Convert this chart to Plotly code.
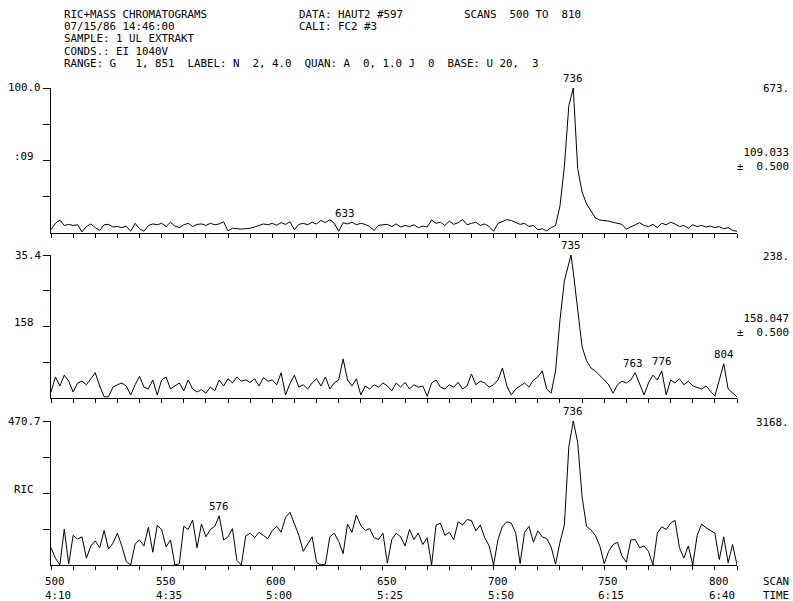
import plotly.graph_objects as go

W, H = 793, 601

# ---------------- data ----------------
top_scans = list(range(500, 811, 2))
top_vals = [
    15, 45, 60, 35, 40,   35, 38, 5, 30, 42,
    25, 12, 38, 40, 28,   30, 25, 32, 8, 45,
    20, 8, 35, 42, 38,    45, 30, 50, 32, 25,
    38, 45, 30, 40, 42,   35, 45, 38, 42, 52,
    10, 22, 20, 18, 20,   22, 28, 35, 42, 38,
    45, 36, 48, 40, 52,   15, 40, 45, 38, 50,
    42, 58, 48, 62, 45,   8, 48, 42, 50, 38,
    45, 40, 30, 12, 35,   38, 40, 30, 42, 28,
    35, 30, 38, 25, 32,   28, 60, 45, 50, 35,
    55, 40, 48, 62, 38,   45, 50, 35, 42, 30,
    8, 45, 55, 62, 58,    50, 40, 45, 30, 35,
    15, 20, 10, 25, 35,   125, 310, 590, 673, 300,
    190, 135, 100, 70, 60, 58, 55, 50, 45, 40,
    18, 30, 38, 48, 35,   30, 40, 25, 45, 38,
    50, 42, 30, 35, 22,   38, 30, 35, 28, 32,
    25, 30, 20, 25, 12,   8,
]

mid_scans = list(range(500, 735, 2)) + [735] + list(range(736, 811, 2))
mid_vals = [
    10, 35, 20, 38, 28,   10, 25, 28, 22, 32,
    42, 20, 2, 2, 18,     22, 25, 20, 5, 22,
    36, 18, 15, 30, 5,    30, 35, 15, 20, 25,
    12, 30, 15, 10, 14,   8, 18, 12, 30, 20,
    32, 25, 35, 28, 30,   26, 32, 20, 34, 28,
    30, 22, 42, 5, 24,    38, 18, 22, 15, 25,
    32, 20, 35, 15, 25,   30, 65, 30, 20, 32,
    5, 20, 15, 22, 18,    25, 20, 12, 25, 18,
    26, 15, 22, 18, 20,   3, 25, 30, 18, 15,
    22, 18, 26, 15, 20,   40, 22, 28, 25, 18,
    22, 30, 50, 20, 5,    15, 20, 25, 18, 30,
    35, 45, 15, 8, 45,    130, 195, 225, 238, 210, 150,
    85, 62, 50, 45, 38,   30, 22, 8, 22, 28,
    25, 30, 42, 22, 5,    25, 38, 30, 45, 5,
    30, 25, 32, 22, 28,   20, 18, 15, 20, 12,
    3, 30, 57, 15, 8,     2,
]

ric_scans = list(range(500, 811, 2))
ric_vals = [
    380, 150, 0, 790, 20,     650, 570, 620, 150, 420,
    530, 380, 760, 350, 480,  700, 420, 80, 0, 460,
    550, 420, 830, 280, 870,  780, 400, 550, 0, 30,
    850, 780, 990, 380, 900,  620, 780, 850, 1080, 550,
    620, 800, 100, 0, 640,    700, 600, 720, 650, 580,
    760, 850, 720, 1050, 1160, 900, 650, 300, 450, 620,
    60, 0, 20, 620, 700,      520, 250, 900, 720, 1100,
    870, 760, 800, 600, 560,  700, 40, 560, 700, 620,
    420, 780, 560, 700, 450,  600, 0, 880, 920, 650,
    720, 560, 950, 880, 1000, 980, 750, 880, 600, 420,
    0, 560, 850, 950, 920,    700, 30, 720, 850, 500,
    750, 620, 580, 400, 20,   500, 880, 2600, 3168, 2700,
    1500, 850, 770, 650, 420, 30, 300, 450, 500, 200,
    60, 550, 560, 380, 420,   300, 0, 700, 840, 780,
    920, 980, 380, 150, 420,  0, 650, 900, 820, 760,
    700, 120, 620, 50, 450,   0,
]

top_max, mid_max, ric_max = 673, 238, 3168

top_peaks = [736, 633]
mid_peaks = [735, 763, 776, 804]
ric_peaks = [736, 576]

x_ticks = list(range(500, 811, 10))
x_label_scans = [500, 550, 600, 650, 700, 750, 800]
x_label_times = ["4:10", "4:35", "5:00", "5:25", "5:50", "6:15", "6:40"]

header_lines = [
    ("RIC+MASS CHROMATOGRAMS", 62, 15),
    ("DATA: HAUT2 #597", 297, 15),
    ("SCANS  500 TO  810", 462, 15),
    ("07/15/86 14:46:00", 62, 27),
    ("CALI: FC2 #3", 297, 27),
    ("SAMPLE: 1 UL EXTRAKT", 62, 39),
    ("CONDS.: EI 1040V", 62, 51),
    ("RANGE: G   1, 851  LABEL: N  2, 4.0  QUAN: A  0, 1.0 J  0  BASE: U 20,  3", 62, 63),
]

# ---------------- figure ----------------
FONT = dict(family="DejaVu Sans Mono", size=10.8, color="black")


def px(x):
    return x / W


def py(y):
    return 1 - y / H


def nb(s):
    return s.replace(" ", "\u00a0")


fig = go.Figure()
panels = [
    ("x", "y", top_scans, top_vals, top_max),
    ("x2", "y2", mid_scans, mid_vals, mid_max),
    ("x3", "y3", ric_scans, ric_vals, ric_max),
]
for xa, ya, s, v, m in panels:
    fig.add_trace(go.Scatter(x=s, y=v, xaxis=xa, yaxis=ya, mode="lines",
                             line=dict(color="black", width=1), hoverinfo="skip",
                             showlegend=False))

xdom = [px(51), px(737)]
ydoms = [[py(233), py(88)], [py(398), py(255)], [py(565), py(421)]]
maxes = [top_max, mid_max, ric_max]

layout = dict(width=W, height=H, margin=dict(l=0, r=0, t=0, b=0),
              paper_bgcolor="white", plot_bgcolor="white", showlegend=False)
for i, (dom, m) in enumerate(zip(ydoms, maxes)):
    sfx = "" if i == 0 else str(i + 1)
    layout["xaxis" + sfx] = dict(domain=xdom, range=[500, 810], anchor="y" + sfx,
                                 tickvals=x_ticks, ticks="outside", ticklen=4,
                                 tickwidth=1, tickcolor="black", showticklabels=False,
                                 showline=True, linecolor="black", linewidth=1,
                                 showgrid=False, zeroline=False)
    layout["yaxis" + sfx] = dict(domain=dom, range=[0, m], anchor="x" + sfx,
                                 tickvals=[m * f for f in (0.25, 0.5, 0.75, 1.0)],
                                 ticks="outside", ticklen=7, tickwidth=1,
                                 tickcolor="black", showticklabels=False,
                                 showline=True, linecolor="black", linewidth=1,
                                 showgrid=False, zeroline=False)
fig.update_layout(**layout)

ann = []
for text, x, y in header_lines:
    ann.append(dict(text=nb(text), x=px(x), y=py(y), xref="paper", yref="paper",
                    xanchor="left", yanchor="middle", showarrow=False, font=FONT))

# left labels
left = [("y", top_max, "100.0", ":09"), ("y2", mid_max, "35.4", "158"),
        ("y3", ric_max, "470.7", "RIC")]
for ya, m, tlab, mlab in left:
    ann.append(dict(text=tlab, x=px(43), y=m, xref="paper", yref=ya, xanchor="right",
                    yanchor="middle", showarrow=False, font=FONT))
    ann.append(dict(text=mlab, x=px(36), y=m * 0.5, yshift=4, xref="paper", yref=ya,
                    xanchor="right", yanchor="middle", showarrow=False, font=FONT))

# right labels
right = [("y", top_max, "673.", "109.033"), ("y2", mid_max, "238.", "158.047"),
         ("y3", ric_max, "3168.", None)]
for ya, m, tlab, mass in right:
    ann.append(dict(text=tlab, x=px(791), y=m, yshift=-1, xref="paper", yref=ya,
                    xanchor="right", yanchor="middle", showarrow=False, font=FONT))
    if mass:
        ann.append(dict(text=mass + "<br>" + nb("±  0.500"), x=px(791), y=m * 0.5,
                        yshift=1, xref="paper", yref=ya, xanchor="right", align="right",
                        yanchor="middle", showarrow=False, font=FONT))

# peak labels
for xa, ya, s, v, peaks in [("x", "y", top_scans, top_vals, top_peaks),
                            ("x2", "y2", mid_scans, mid_vals, mid_peaks),
                            ("x3", "y3", ric_scans, ric_vals, ric_peaks)]:
    for p in peaks:
        val = max(vv for ss, vv in zip(s, v) if abs(ss - p) <= 1)
        ann.append(dict(text=str(p), x=p, y=val, xref=xa, yref=ya, yshift=1,
                        xanchor="center", yanchor="bottom", showarrow=False,
                        font=FONT))

# bottom scan / time labels
for sc, tm in zip(x_label_scans, x_label_times):
    ann.append(dict(text=str(sc), x=sc, y=py(581), xref="x3", yref="paper", xshift=-8,
                    xanchor="left", yanchor="middle", showarrow=False, font=FONT))
    ann.append(dict(text=tm, x=sc, y=py(595), xref="x3", yref="paper", xshift=-8,
                    xanchor="left", yanchor="middle", showarrow=False, font=FONT))
ann.append(dict(text="SCAN", x=px(761), y=py(581), xref="paper", yref="paper",
                xanchor="left", yanchor="middle", showarrow=False, font=FONT))
ann.append(dict(text="TIME", x=px(761), y=py(595), xref="paper", yref="paper",
                xanchor="left", yanchor="middle", showarrow=False, font=FONT))

fig.update_layout(annotations=ann)
fig.write_html("out.html", config={"displayModeBar": False},
               post_script="document.body.style.margin='0';"
                           "document.body.style.padding='0';"
                           "document.body.style.overflow='hidden';")
